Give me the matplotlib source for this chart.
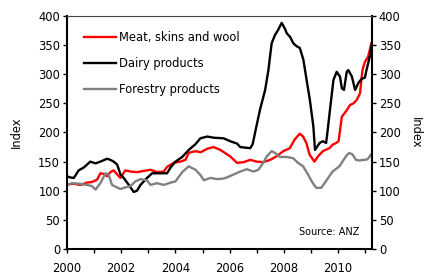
import matplotlib
matplotlib.use("Agg")
import matplotlib.pyplot as plt
from matplotlib.ticker import MultipleLocator

# Indices de prix des matières premières (ANZ)
t_meat = [2000.0, 2000.25, 2000.49, 2000.74, 2000.92, 2001.11, 2001.23, 2001.35, 2001.48, 2001.6,
          2001.72, 2001.85, 2001.97, 2002.15, 2002.34, 2002.58, 2002.83, 2003.08, 2003.32, 2003.57,
          2003.69, 2003.94, 2004.18, 2004.37, 2004.49, 2004.74, 2004.93, 2005.17, 2005.41, 2005.66,
          2006.02, 2006.27, 2006.51, 2006.76, 2007.0, 2007.24, 2007.49, 2007.73, 2007.98, 2008.22,
          2008.40, 2008.59, 2008.71, 2008.83, 2008.95, 2009.13, 2009.26, 2009.44, 2009.68, 2009.80,
          2009.93, 2010.02, 2010.14, 2010.32, 2010.44, 2010.57, 2010.69, 2010.81, 2010.90, 2010.99,
          2011.11, 2011.23]
v_meat = [111, 112, 110, 114, 115, 119, 130, 129, 125, 132,
          135, 128, 122, 135, 133, 132, 134, 136, 132, 133,
          141, 148, 150, 153, 165, 168, 166, 172, 175, 170,
          159, 148, 149, 153, 150, 149, 153, 159, 168, 173,
          188, 198, 193, 182, 162, 150, 159, 168, 173, 179,
          182, 185, 227, 238, 247, 250, 256, 267, 307, 321,
          330, 353]

t_dairy = [2000.0, 2000.1, 2000.25, 2000.43, 2000.62, 2000.86, 2001.05, 2001.23, 2001.48, 2001.6,
           2001.72, 2001.85, 2001.97, 2002.09, 2002.28, 2002.46, 2002.58, 2002.71, 2002.95, 2003.14,
           2003.32, 2003.69, 2003.82, 2004.0, 2004.25, 2004.49, 2004.74, 2004.92, 2005.17, 2005.42,
           2005.78, 2006.02, 2006.27, 2006.39, 2006.76, 2006.85, 2006.94, 2007.12, 2007.31, 2007.43,
           2007.55, 2007.67, 2007.79, 2007.92, 2008.04, 2008.11, 2008.23, 2008.35, 2008.47, 2008.59,
           2008.72, 2008.84, 2008.96, 2009.09, 2009.15, 2009.32, 2009.44, 2009.56, 2009.62, 2009.70,
           2009.83, 2009.95, 2010.07, 2010.14, 2010.22, 2010.32, 2010.38, 2010.51, 2010.63, 2010.75,
           2010.87, 2010.99, 2011.05, 2011.17, 2011.25]
v_dairy = [125, 123, 122, 135, 140, 150, 147, 150, 155, 153,
           150, 145, 128, 122, 110, 98, 100, 110, 122, 130,
           130, 130, 140, 150, 158, 170, 180, 190, 193, 191,
           190, 185, 181, 175, 173, 180, 200, 239, 273, 307,
           353, 367, 376, 388, 378, 370, 364, 353, 348, 345,
           325, 290, 256, 210, 170, 182, 185, 182, 205, 238,
           290, 304, 296, 276, 273, 304, 307, 296, 273, 285,
           292, 294, 307, 330, 353]

t_forest = [2000.0, 2000.18, 2000.49, 2000.74, 2000.92, 2001.05, 2001.23, 2001.42, 2001.54, 2001.66,
            2001.97, 2002.09, 2002.34, 2002.52, 2002.71, 2002.95, 2003.08, 2003.32, 2003.57, 2003.82,
            2004.0, 2004.25, 2004.49, 2004.74, 2004.92, 2005.05, 2005.29, 2005.54, 2005.78, 2005.90,
            2006.15, 2006.39, 2006.63, 2006.88, 2007.06, 2007.24, 2007.37, 2007.55, 2007.67, 2007.85,
            2008.10, 2008.34, 2008.52, 2008.71, 2008.89, 2009.07, 2009.20, 2009.38, 2009.50, 2009.68,
            2009.80, 2010.05, 2010.29, 2010.41, 2010.54, 2010.66, 2010.78, 2010.96, 2011.09, 2011.21]
v_forest = [110, 113, 112, 110, 108, 102, 113, 130, 127, 110,
            103, 105, 108, 116, 120, 118, 110, 113, 110, 114,
            116, 132, 142, 136, 127, 118, 122, 120, 121, 123,
            128, 133, 137, 133, 136, 148, 159, 168, 165, 158,
            158, 156, 148, 142, 128, 113, 105, 105, 113, 125,
            133, 142, 159, 165, 162, 153, 152, 153, 154, 162]

labels = ["Meat, skins and wool", "Dairy products", "Forestry products"]
year_labels = [2000, 2002, 2004, 2006, 2008, 2010]

fs = 8.3
fig = plt.figure(figsize=(4.27, 2.74), dpi=100)
ax = fig.add_axes([0.157, 0.091, 0.714, 0.851])

ax.plot(t_meat, v_meat, color="#ff0000", lw=1.7, label=labels[0])
ax.plot(t_dairy, v_dairy, color="black", lw=1.7, label=labels[1])
ax.plot(t_forest, v_forest, color="#808080", lw=1.7, label=labels[2])

ax.set_xlim(2000, 2011.25)
ax.set_ylim(0, 400)
ax.set_xticks(year_labels)
ax.set_xticklabels([str(y) for y in year_labels], fontsize=fs)
ax.xaxis.set_minor_locator(MultipleLocator(1))
ax.yaxis.set_major_locator(MultipleLocator(50))
ax.tick_params(axis="y", labelsize=fs, length=3, width=1, direction="out", pad=2)
ax.tick_params(axis="x", which="both", length=3, width=1, direction="out", pad=6)
ax.set_ylabel("Index", fontsize=fs, labelpad=11)

for s in ["left", "right", "bottom"]:
    ax.spines[s].set_linewidth(1.5)
ax.spines["top"].set_linewidth(0.8)
ax.spines["top"].set_color("#444444")

ax2 = ax.twinx()
ax2.set_ylim(0, 400)
ax2.yaxis.set_major_locator(MultipleLocator(50))
ax2.tick_params(axis="y", labelsize=fs, length=3, width=1, direction="out", pad=2)
ax2.set_ylabel("Index", fontsize=fs, rotation=270, labelpad=15)
for s in ax2.spines.values():
    s.set_visible(False)

leg = ax.legend(loc="upper left", bbox_to_anchor=(0.02, 0.98), frameon=False, fontsize=fs,
                handlelength=2.8, handletextpad=0.25, labelspacing=1.15)

ax.text(0.96, 0.05, "Source: ANZ", transform=ax.transAxes, ha="right", va="bottom", fontsize=7)

fig.savefig("out.png", dpi=100)
